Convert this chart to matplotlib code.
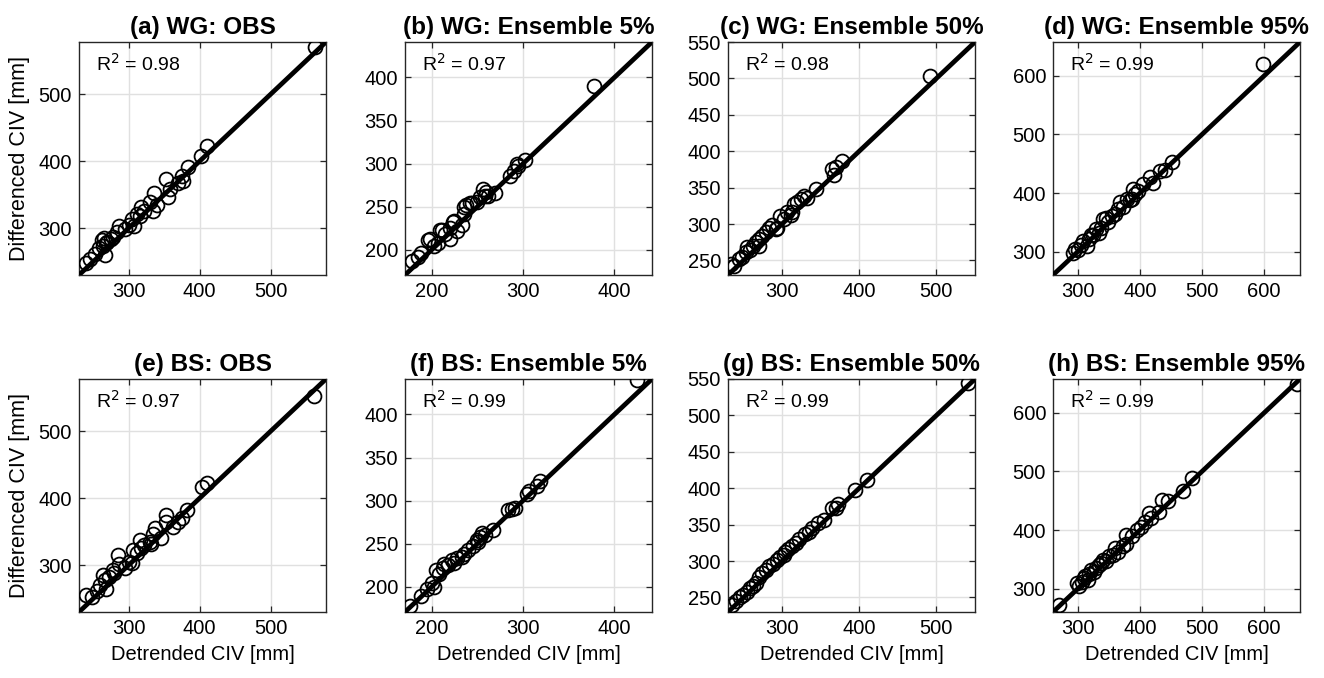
import matplotlib
matplotlib.use("Agg")
import matplotlib.pyplot as plt

plt.rcParams['font.family'] = ['Liberation Sans', 'DejaVu Sans']

# ---------------- data ----------------
titles = ["(a) WG: OBS", "(b) WG: Ensemble 5%", "(c) WG: Ensemble 50%", "(d) WG: Ensemble 95%",
          "(e) BS: OBS", "(f) BS: Ensemble 5%", "(g) BS: Ensemble 50%", "(h) BS: Ensemble 95%"]
r2_values = ["0.98", "0.97", "0.98", "0.99", "0.97", "0.99", "0.99", "0.99"]

# (a) WG: OBS
wg_obs_x = [240, 245, 252, 258, 262, 264, 265, 266, 268, 270, 275, 278, 283, 287, 295, 300, 305, 307,
            312, 316, 318, 322, 330, 334, 335, 340, 352, 356, 358, 370, 375, 376, 383, 402, 410, 562]
wg_obs_y = [248, 254, 262, 270, 283, 273, 286, 260, 278, 280, 284, 287, 294, 303, 298, 305, 313, 303,
            321, 318, 331, 325, 339, 326, 353, 335, 373, 346, 358, 368, 378, 371, 391, 408, 423, 570]
# (b) WG: Ensemble 5%
wg_e5_x = [179, 185, 189, 196, 198, 203, 207, 209, 211, 215, 220, 220, 223, 225, 228, 233, 236,
           236, 238, 242, 244, 250, 253, 256, 258, 260, 262, 269, 286, 290, 293, 295, 302, 378]
wg_e5_y = [187, 192, 196, 212, 213, 205, 208, 223, 223, 218, 213, 226, 232, 234, 222, 229, 242,
           250, 252, 254, 254, 256, 261, 271, 263, 267, 262, 266, 286, 292, 300, 297, 304, 390]
# (c) WG: Ensemble 50%
wg_e50_x = [234, 238, 244, 248, 253, 255, 258, 262, 266, 270, 270, 274, 279, 283, 287, 292, 294,
            298, 302, 307, 311, 313, 316, 320, 325, 328, 332, 344, 365, 367, 370, 378, 492]
wg_e50_y = [245, 242, 252, 255, 261, 268, 265, 270, 275, 279, 270, 283, 289, 295, 298, 293, 295,
            311, 307, 316, 312, 316, 327, 330, 334, 339, 336, 348, 375, 368, 378, 387, 503]
# (d) WG: Ensemble 95%
wg_e95_x = [292, 295, 300, 305, 309, 314, 318, 322, 325, 330, 334, 338, 341, 346, 349, 355, 360,
            365, 368, 372, 380, 384, 387, 389, 392, 397, 405, 416, 421, 432, 440, 451, 598]
wg_e95_y = [298, 305, 303, 312, 318, 309, 322, 328, 329, 338, 332, 340, 355, 358, 350, 360, 365,
            372, 384, 377, 390, 388, 390, 407, 398, 404, 415, 427, 418, 438, 440, 453, 620]
# (e) BS: OBS
bs_obs_x = [240, 248, 255, 260, 264, 266, 268, 272, 278, 280, 285, 287, 295, 300, 304, 306, 312,
            316, 318, 322, 330, 332, 334, 337, 345, 353, 353, 363, 370, 375, 382, 403, 410, 561]
bs_obs_y = [255, 252, 262, 270, 285, 278, 265, 282, 292, 288, 315, 302, 296, 305, 303, 322, 318,
            337, 325, 330, 335, 332, 347, 355, 340, 375, 365, 357, 365, 370, 382, 417, 422, 552]
# (f) BS: Ensemble 5%
bs_e5_x = [176, 188, 195, 200, 203, 205, 208, 212, 214, 218, 222, 225, 228, 233, 236, 240, 245,
           250, 251, 253, 255, 258, 267, 284, 288, 291, 304, 306, 315, 319, 425]
bs_e5_y = [178, 190, 198, 205, 200, 220, 215, 222, 227, 225, 231, 228, 233, 235, 238, 243, 248,
           255, 252, 258, 262, 260, 266, 289, 290, 292, 308, 311, 317, 323, 440]
# (g) BS: Ensemble 50%
bs_e50_x = [235, 240, 245, 250, 254, 258, 262, 266, 270, 274, 279, 283, 288, 294, 298, 302, 304,
            308, 313, 318, 322, 330, 335, 339, 346, 354, 365, 370, 372, 395, 410, 541]
bs_e50_y = [240, 245, 250, 254, 258, 263, 266, 270, 278, 284, 288, 293, 296, 302, 305, 308, 312,
            316, 321, 325, 330, 337, 340, 346, 352, 357, 373, 373, 378, 398, 411, 545]
# (h) BS: Ensemble 95%
bs_e95_x = [270, 298, 302, 306, 310, 312, 316, 318, 322, 326, 330, 334, 338, 341, 345, 350, 357,
            360, 365, 372, 378, 378, 388, 395, 402, 408, 414, 418, 430, 435, 446, 470, 484, 653]
bs_e95_y = [272, 310, 305, 312, 318, 322, 315, 325, 331, 328, 335, 340, 343, 349, 347, 355, 357,
            369, 362, 372, 391, 377, 390, 400, 405, 414, 429, 420, 431, 451, 449, 466, 489, 649]

xs = [wg_obs_x, wg_e5_x, wg_e50_x, wg_e95_x, bs_obs_x, bs_e5_x, bs_e50_x, bs_e95_x]
ys = [wg_obs_y, wg_e5_y, wg_e50_y, wg_e95_y, bs_obs_y, bs_e5_y, bs_e50_y, bs_e95_y]

# axis limits per column (shared by both rows) and ticks
col_limits = [(230, 578), (171, 441), (230, 550), (260, 658)]
col_xticks = [[300, 400, 500], [200, 300, 400], [300, 400, 500], [300, 400, 500, 600]]
col_yticks = [[300, 400, 500], [200, 250, 300, 350, 400], [250, 300, 350, 400, 450, 500, 550],
              [300, 400, 500, 600]]

# ---------------- figure ----------------
W, H = 1324, 678
fig = plt.figure(figsize=(W / 100, H / 100), dpi=100)

col_left_px = [79, 405, 728, 1053]
ax_w_px = 247
row_top_px = [42, 379]
ax_h_px = 233

dark = '#262626'
for i in range(8):
    r, c = divmod(i, 4)
    left = col_left_px[c] / W
    bottom = 1 - (row_top_px[r] + ax_h_px) / H
    ax = fig.add_axes([left, bottom, ax_w_px / W, ax_h_px / H])
    lo, hi = col_limits[c]
    ax.plot(xs[i], ys[i], linestyle='none', marker='o', markersize=10,
            markerfacecolor='none', markeredgecolor='black', markeredgewidth=1.3, zorder=3)
    ax.plot([lo, hi], [lo, hi], color='black', linewidth=3.4, zorder=4, solid_capstyle='butt')
    ax.set_xlim(lo, hi)
    ax.set_ylim(lo, hi)
    ax.set_xticks(col_xticks[c])
    ax.set_yticks(col_yticks[c])
    ax.grid(True, color='#e0e0e0', linewidth=1.0, zorder=0)
    ax.set_axisbelow(True)
    ax.tick_params(direction='in', top=True, right=True, length=4, width=0.9,
                   labelsize=14.5, colors=dark, labelcolor='black', pad=5)
    for s in ax.spines.values():
        s.set_color(dark)
        s.set_linewidth(1.0)
    ax.set_title(titles[i], fontsize=17.5, fontweight='bold', pad=6)
    ax.text(0.07, 0.905, "R$^2$ = " + r2_values[i], transform=ax.transAxes,
            fontsize=14, ha='left', va='center', zorder=5)
    if c == 0:
        ax.set_ylabel("Differenced CIV [mm]", fontsize=15.5, labelpad=6)
    if r == 1:
        ax.set_xlabel("Detrended CIV [mm]", fontsize=14.5, labelpad=5)

fig.savefig("out.png", dpi=100)
